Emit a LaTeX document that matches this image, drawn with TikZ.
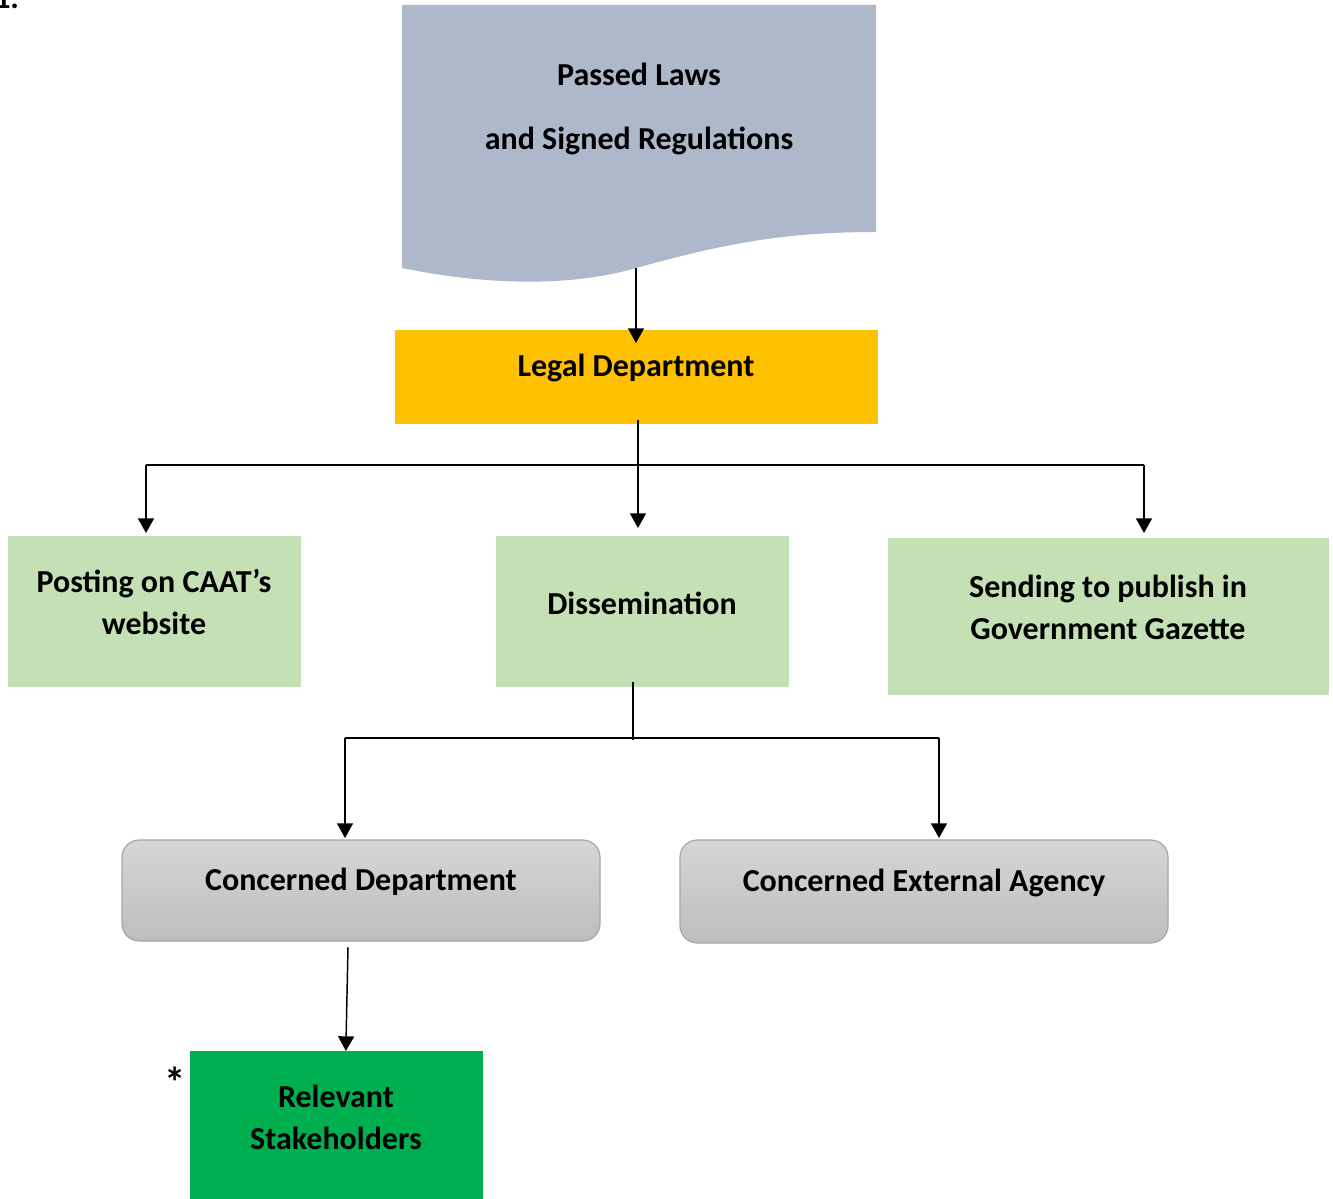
\documentclass[tikz,border=0pt]{standalone}
\usepackage{fontspec}
\setmainfont{Carlito}
\usetikzlibrary{arrows.meta,fit}
\definecolor{docc}{HTML}{ADB9CA}
\definecolor{legalc}{HTML}{FFC000}
\definecolor{lgreen}{HTML}{C5E0B4}
\definecolor{dgreen}{HTML}{00B050}
\definecolor{gtop}{HTML}{D6D6D6}
\definecolor{gbot}{HTML}{BDBDBD}
\definecolor{gborder}{HTML}{A6A6A6}
\begin{document}
\begin{tikzpicture}[x=0.75pt,y=-0.75pt,
  box/.style={inner sep=0pt, outer sep=0pt, draw=none},
  rbox/.style={inner sep=0pt, outer sep=0pt, rounded corners=13pt, draw=gborder, line width=0.9pt, top color=gtop, bottom color=gbot},
  lbl/.style={font=\bfseries\fontsize{24}{31.5}\selectfont, align=center, inner sep=0pt},
  arr/.style={-{Triangle[width=12pt,length=11pt]}, line width=1.1pt},
  ln/.style={line width=1.1pt}]
\useasboundingbox (0,0) rectangle (1333,1198);
% page number fragment
\node[anchor=base west, inner sep=0pt, font=\rmfamily\bfseries\fontsize{24}{28}\selectfont] (num) at (-6,9) {1.};
% document shape
\fill[docc] (402,5) -- (876,5) -- (876,232) .. controls (780,232) and (720,245) .. (636,268)
  .. controls (560,290) and (470,282) .. (402,268) -- cycle;
\node[box, fit={(402,5)(876,283)}] (doc) {};
\node[lbl, font=\bfseries\fontsize{24}{48}\selectfont] (tdoc) at (639,109) {Passed Laws\\and Signed Regulations};
% boxes
\node[box, fill=legalc, fit={(395,330)(878,424)}] (legal) {};
\node[lbl] (tlegal) at (636,368) {Legal Department};
\node[box, fill=lgreen, fit={(8,536)(301,687)}] (post) {};
\node[lbl] (tpost) at (154,601.5) {Posting on CAAT’s\\website};
\node[box, fill=lgreen, fit={(496,536)(789,687)}] (diss) {};
\node[lbl] (tdiss) at (642,603) {Dissemination};
\node[box, fill=lgreen, fit={(888,538)(1329,695)}] (send) {};
\node[lbl] (tsend) at (1108,607) {Sending to publish in\\Government Gazette};
\node[rbox, fit={(122,840)(600,941)}] (cdep) {};
\node[lbl] (tcdep) at (361,882) {Concerned Department};
\node[rbox, fit={(680,840)(1168,943)}] (cext) {};
\node[lbl] (tcext) at (924,883) {Concerned External Agency};
\node[box, fill=dgreen, fit={(190,1051)(483,1205)}] (stake) {};
\node[lbl] (tstake) at (336,1117) {Relevant\\Stakeholders};
\node[lbl, font=\bfseries\fontsize{32}{36}\selectfont] (ast) at (175,1082) {*};
% connectors
\coordinate (docb) at (636,268);
\coordinate (legin) at ([yshift=-9.75pt]legal.north);
\draw[arr] (docb) -- (docb |- legin);
\coordinate (bc) at (638,465);
\coordinate (bl) at (146,465);
\coordinate (br) at (1144,465);
\draw[ln] (bl) -- (br);
\draw[arr] ([yshift=3pt]legal.south -| bc) -- ([yshift=6pt]diss.north -| bc);
\draw[arr] (bl) -- ([yshift=2.25pt]post.north -| bl);
\draw[arr] (br) -- ([yshift=3.75pt]send.north -| br);
\coordinate (b2c) at (633,740);
\coordinate (b2l) at (345,738);
\coordinate (b2r) at (939,738);
\draw[ln] ([yshift=4pt]diss.south -| b2c) -- (b2c);
\draw[ln] (b2l) -- (b2r);
\draw[arr] (b2l) -- ([yshift=1.5pt]cdep.north -| b2l);
\draw[arr] (b2r) -- ([yshift=1.5pt]cext.north -| b2r);
\draw[arr] ([shift={(-9.75pt,-4.5pt)}]cdep.south) -- ([xshift=7pt]stake.north);
\end{tikzpicture}
\end{document}
